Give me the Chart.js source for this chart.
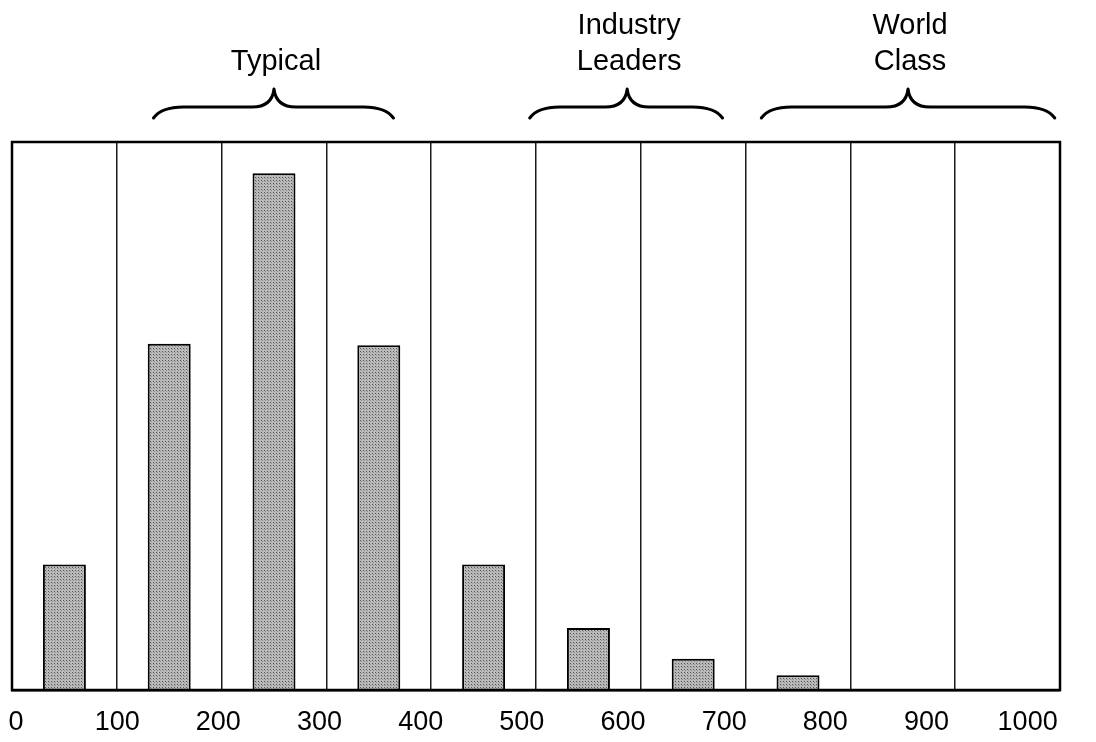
<!DOCTYPE html>
<html>
<head>
<meta charset="utf-8">
<script src="https://cdn.jsdelivr.net/npm/chart.js@4/dist/chart.umd.min.js"></script>
<style>
  html, body { margin: 0; padding: 0; background: #ffffff; }
  #wrap { width: 1096px; height: 742px; }
</style>
</head>
<body>
<div id="wrap"><canvas id="c" width="1096" height="742"></canvas></div>
<script>
// ---- data ----
const binCenters = [50, 150, 250, 350, 450, 550, 650, 750, 850, 950];
const binValues  = [22.9, 63.2, 94.3, 62.9, 22.9, 11.3, 5.7, 2.7, 0, 0];
const tickLabels = [0, 100, 200, 300, 400, 500, 600, 700, 800, 900, 1000];
const groupLabels = [["Typical"], ["Industry", "Leaders"], ["World", "Class"]];
const groupStart  = [135, 494, 715];
const groupApex   = [250, 587, 855];
const groupEnd    = [364, 678, 995];

// halftone-like fill pattern
function makePattern() {
  const p = document.createElement('canvas');
  p.width = 3; p.height = 3;
  const g = p.getContext('2d');
  g.fillStyle = '#bababa';
  g.fillRect(0, 0, 3, 3);
  g.fillStyle = '#555555';
  g.fillRect(0, 0, 1, 1);
  g.fillStyle = '#8e8e8e';
  g.fillRect(1, 1, 1, 1);
  return document.getElementById('c').getContext('2d').createPattern(p, 'repeat');
}

const frameAndBraces = {
  id: 'frameAndBraces',
  afterDraw(chart) {
    const ctx = chart.ctx;
    const a = chart.chartArea;
    const xs = chart.scales.x;
    ctx.save();
    // frame
    ctx.strokeStyle = '#000';
    ctx.lineWidth = 2.5;
    ctx.strokeRect(a.left, a.top, a.right - a.left, a.bottom - a.top);
    // braces
    ctx.lineWidth = 3;
    ctx.lineCap = 'round';
    ctx.lineJoin = 'round';
    const yEnd = a.top - 24, yFlat = a.top - 35, yApex = a.top - 53;
    for (let i = 0; i < groupLabels.length; i++) {
      const x0 = xs.getPixelForValue(groupStart[i]);
      const xm = xs.getPixelForValue(groupApex[i]);
      const x1 = xs.getPixelForValue(groupEnd[i]);
      ctx.beginPath();
      ctx.moveTo(x0, yEnd);
      ctx.quadraticCurveTo(x0 + 8, yFlat, x0 + 30, yFlat);
      ctx.lineTo(xm - 22, yFlat);
      ctx.quadraticCurveTo(xm - 2, yFlat, xm, yApex);
      ctx.quadraticCurveTo(xm + 2, yFlat, xm + 22, yFlat);
      ctx.lineTo(x1 - 30, yFlat);
      ctx.quadraticCurveTo(x1 - 8, yFlat, x1, yEnd);
      ctx.stroke();
      // label
      ctx.fillStyle = '#000';
      ctx.font = '29px "Liberation Sans", Arial, sans-serif';
      ctx.textAlign = 'center';
      ctx.textBaseline = 'alphabetic';
      const lines = groupLabels[i];
      for (let k = 0; k < lines.length; k++) {
        const yb = 70 - (lines.length - 1 - k) * 36;
        ctx.fillText(lines[k], xm + 2, yb);
      }
    }
    ctx.restore();
  }
};

new Chart(document.getElementById('c'), {
  type: 'bar',
  data: {
    datasets: [{
      data: binCenters.map((x, i) => ({ x: x, y: binValues[i] })),
      backgroundColor: makePattern(),
      borderColor: '#000',
      borderWidth: 2,
      borderSkipped: 'bottom',
      barPercentage: 0.41,
      categoryPercentage: 1.0
    }]
  },
  options: {
    responsive: false,
    animation: false,
    events: [],
    layout: { padding: { left: 12, right: 36, top: 142, bottom: 4 } },
    plugins: { legend: { display: false }, tooltip: { enabled: false } },
    scales: {
      x: {
        type: 'linear',
        position: 'bottom',
        min: 0, max: 1000,
        offset: false,
        afterFit(axis) { axis.height = 0; axis.paddingLeft = 0; axis.paddingRight = 0; },
        ticks: { display: false, stepSize: 100 },
        grid: { offset: false, color: '#1a1a1a', lineWidth: 1.5, drawTicks: false },
        border: { display: true, color: '#000', width: 2.5 }
      },
      xl: {
        type: 'linear',
        position: 'bottom',
        min: -4, max: 1032,
        offset: false,
        afterBuildTicks(axis) { axis.ticks = tickLabels.map(v => ({ value: v })); },
        afterFit(axis) { axis.height = 48; axis.paddingLeft = 0; axis.paddingRight = 0; },
        ticks: {
          padding: 16,
          color: '#000',
          maxRotation: 0,
          autoSkip: false,
          font: { family: '"Liberation Sans", Arial, sans-serif', size: 27 },
          callback: (v) => String(v)
        },
        grid: { display: false, drawTicks: false },
        border: { display: false }
      },
      y: {
        display: false,
        min: 0, max: 100
      }
    }
  },
  plugins: [frameAndBraces]
});
</script>
</body>
</html>
